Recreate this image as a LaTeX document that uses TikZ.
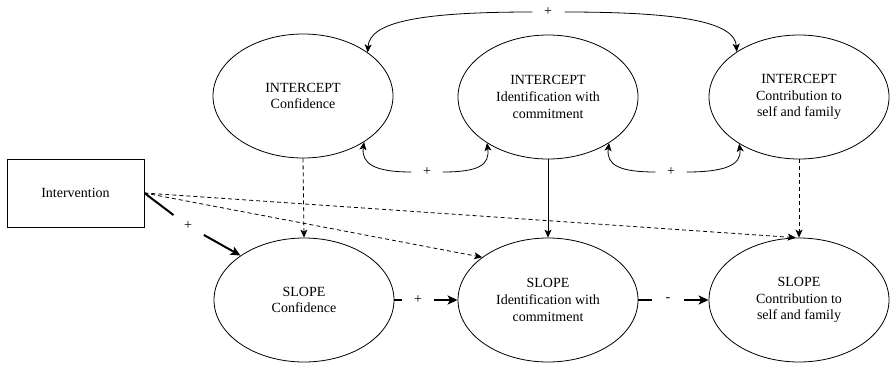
\documentclass[tikz,border=0pt]{standalone}
\usepackage{fontspec}
\setmainfont{Liberation Serif}
\usetikzlibrary{arrows.meta,shapes.geometric}
\begin{document}
\begin{tikzpicture}[x=1pt,y=1pt,
  every node/.style={font=\fontsize{14}{16.8}\selectfont},
  latent/.style={ellipse,draw,line width=0.8pt,minimum width=180pt,minimum height=124pt,inner sep=0pt,align=center},
  obsbox/.style={rectangle,draw,line width=0.8pt,minimum width=137pt,minimum height=68pt,inner sep=0pt},
  gap/.style={inner sep=0pt,minimum width=31pt,minimum height=12pt},
  gapround/.style={circle,inner sep=0pt,minimum size=36pt},
  thin/.style={line width=0.8pt},
  thinarrow/.style={thin,-{Stealth[length=8pt,width=7pt,inset=2pt]}},
  dasharrow/.style={thinarrow,dash pattern=on 4pt off 3pt},
  boldline/.style={line width=2pt},
  boldarrow/.style={boldline,-{Stealth[length=10pt,width=9pt,inset=2.5pt]}},
]
\useasboundingbox (0,0) rectangle (893,365);

% latent intercepts
\node[latent] (ic) at (303,269) {INTERCEPT\\Confidence};
\node[latent] (im) at (548,268) {INTERCEPT\\Identification with\\commitment};
\node[latent] (ir) at (799,268) {INTERCEPT\\Contribution to\\self and family};

% latent slopes
\node[latent] (sc) at (304,65) {SLOPE\\Confidence};
\node[latent] (sm) at (548,65) {SLOPE\\Identification with\\commitment};
\node[latent] (sr) at (799,65) {SLOPE\\Contribution to\\self and family};

% observed predictor
\node[obsbox] (iv) at (75.5,172) {Intervention};

% sign labels placed in the gaps of the paths
\node[gap] (ptop) at (548,353) {+};
\node[gap] (pl) at (427,193) {+};
\node[gap] (pr) at (671,193) {+};
\node[gapround] (pi) at (188,139) {+};
\node[gap] (ps1) at (418,65) {+};
\node[gap] (ps2) at (668,65) {-};

% covariances among intercepts
\draw[thinarrow] (ptop.west) .. controls +(-115,0) and +(2,30) .. (ic.34.5);
\draw[thinarrow] ([xshift=1pt]ptop.east) .. controls +(115,0) and +(-2,30) .. (ir.144);
\draw[thinarrow] (pl.west) .. controls +(-36,0) and +(-3,-22) .. (ic.-37.4);
\draw[thinarrow] (pl.east) .. controls +(36,0) and +(3,-22) .. (im.217);
\draw[thinarrow] (pr.west) .. controls +(-36,0) and +(-3,-22) .. (im.-37);
\draw[thinarrow] (pr.east) .. controls +(36,0) and +(3,-22) .. (ir.218);

% intercept to slope paths
\draw[dasharrow] (ic.south) -- (sc.north);
\draw[thinarrow] (im.south) -- (sm.north);
\draw[dasharrow] (ir.south) -- (sr.north);

% intervention effects
\draw[dasharrow] (iv.east) -- (sm.147);
\draw[dasharrow] (iv.east) -- (sr.93);
\draw[boldline] (iv.east) -- (pi);
\draw[boldarrow] (pi) -- (sc.145.5);

% slope to slope paths
\draw[boldline] (sc.east) -- (ps1.west);
\draw[boldarrow] (ps1.east) -- (sm.west);
\draw[boldline] (sm.east) -- (ps2.west);
\draw[boldarrow] (ps2.east) -- (sr.west);
\end{tikzpicture}
\end{document}
